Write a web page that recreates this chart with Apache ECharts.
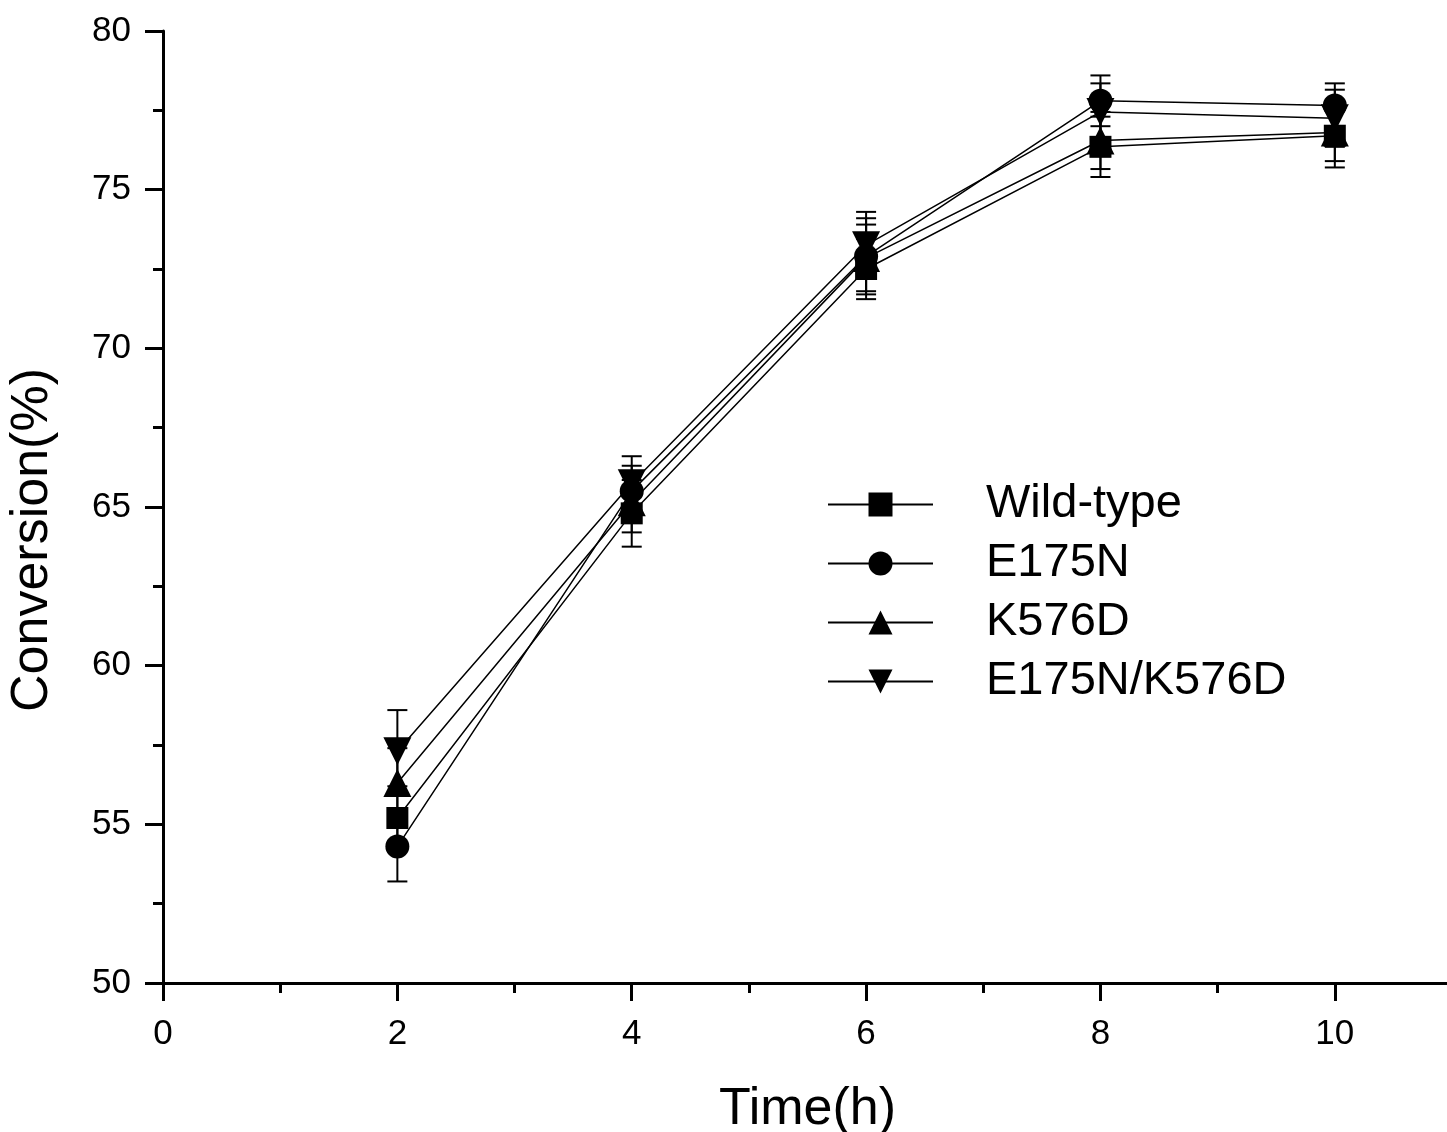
<!DOCTYPE html>
<html>
<head>
<meta charset="utf-8">
<script src="https://cdn.jsdelivr.net/npm/echarts@6/dist/echarts.min.js"></script>
<style>
  html, body { margin: 0; padding: 0; background: #fff; }
  #chart { width: 1447px; height: 1132px; }
</style>
</head>
<body>
<div id="chart"></div>
<script>
  // sampling times (h)
  const times = [2, 4, 6, 8, 10]
  const seriesNames = ['Wild-type', 'E175N', 'K576D', 'E175N/K576D']
  // conversion (%)
  const wildType = [55.2, 64.8, 72.5, 76.35, 76.7]
  const e175n = [54.3, 65.5, 72.9, 77.8, 77.65]
  const k576d = [56.3, 65.15, 72.85, 76.55, 76.8]
  const e175nK576d = [57.3, 65.75, 73.25, 77.45, 77.25]
  // error bar half-widths
  const wildTypeErr = [1.0, 1.05, 0.95, 0.95, 1.0]
  const e175nErr = [1.1, 0.8, 1.2, 0.8, 0.7]
  const k576dErr = [1.1, 0.95, 1.05, 0.9, 0.9]
  const e175nK576dErr = [1.3, 0.85, 1.05, 0.9, 0.9]
  const yTicks = [50, 55, 60, 65, 70, 75, 80]

  const values = [wildType, e175n, k576d, e175nK576d]
  const errors = [wildTypeErr, e175nErr, k576dErr, e175nK576dErr]
  const symbols = ['rect', 'circle', 'triangle', 'path://M0,0 L10,0 L5,9 Z']
  const sizes = [22, 24, 28, 28]

  const font = 'Liberation Sans, Arial, sans-serif'
  let myChart = echarts.init(document.getElementById('chart'))

  // error bars drawn with a custom series
  function errorSeries(vals, errs) {
    return {
      type: 'custom',
      silent: true,
      z: 1,
      data: times.map((t, i) => [t, vals[i] - errs[i], vals[i] + errs[i]]),
      renderItem: (params, api) => {
        const lo = api.coord([api.value(0), api.value(1)])
        const hi = api.coord([api.value(0), api.value(2)])
        const w = 10
        const style = { stroke: '#000', lineWidth: 2 }
        return {
          type: 'group',
          children: [
            { type: 'line', shape: { x1: lo[0], y1: lo[1], x2: hi[0], y2: hi[1] }, style },
            { type: 'line', shape: { x1: lo[0] - w, y1: lo[1], x2: lo[0] + w, y2: lo[1] }, style },
            { type: 'line', shape: { x1: hi[0] - w, y1: hi[1], x2: hi[0] + w, y2: hi[1] }, style }
          ]
        }
      }
    }
  }

  let series = []
  seriesNames.forEach((name, k) => {
    series.push(errorSeries(values[k], errors[k]))
  })
  seriesNames.forEach((name, k) => {
    series.push({
      name: name,
      type: 'line',
      z: 3,
      data: times.map((t, i) => [t, values[k][i]]),
      symbol: symbols[k],
      symbolSize: sizes[k],
      showAllSymbol: true,
      lineStyle: { color: '#000', width: 1.5 },
      itemStyle: { color: '#000' },
      emphasis: { disabled: true },
      animation: false
    })
  })

  let option = {
    animation: false,
    grid: { left: 163, right: -5, top: 31, bottom: 149, containLabel: false, outerBoundsMode: 'none' },
    legend: {
      orient: 'vertical',
      left: 822,
      top: 476,
      itemWidth: 105,
      itemHeight: 30,
      itemGap: 12,
      data: seriesNames,
      textStyle: { fontFamily: font, fontSize: 47, color: '#000', padding: [8, 0, 0, 48] }
    },
    xAxis: {
      type: 'value',
      min: 0,
      max: 11,
      interval: 2,
      name: 'Time(h)',
      nameLocation: 'middle',
      nameGap: 101,
      nameTextStyle: { fontFamily: font, fontSize: 52, color: '#000' },
      axisLine: { lineStyle: { color: '#000', width: 3 } },
      axisTick: { inside: false, length: 18, lineStyle: { color: '#000', width: 3 } },
      minorTick: { show: true, splitNumber: 2, length: 10, lineStyle: { color: '#000', width: 3 } },
      axisLabel: {
        fontFamily: font, fontSize: 35, color: '#000', margin: 34,
        formatter: v => (v > 10 ? '' : v)
      },
      splitLine: { show: false }
    },
    yAxis: {
      type: 'value',
      min: yTicks[0],
      max: yTicks[yTicks.length - 1],
      interval: 5,
      name: 'Conversion(%)',
      nameLocation: 'middle',
      nameGap: 104,
      nameTextStyle: { fontFamily: font, fontSize: 52, color: '#000', padding: [0, 66, 0, 0] },
      axisLine: { lineStyle: { color: '#000', width: 3 } },
      axisTick: { inside: false, length: 18, lineStyle: { color: '#000', width: 3 } },
      minorTick: { show: true, splitNumber: 2, length: 10, lineStyle: { color: '#000', width: 3 } },
      axisLabel: { fontFamily: font, fontSize: 35, color: '#000', margin: 32 },
      splitLine: { show: false }
    },
    series: series
  }
  myChart.setOption(option)
</script>
</body>
</html>
